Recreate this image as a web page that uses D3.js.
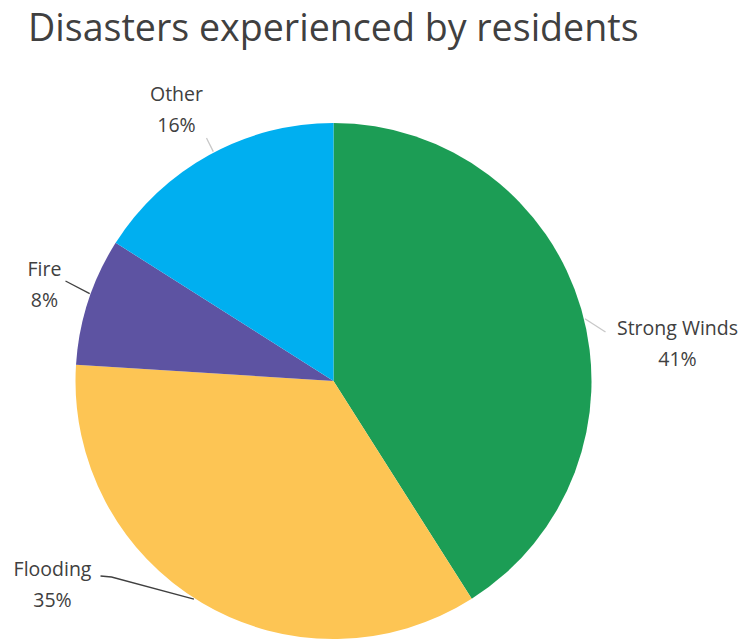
<!DOCTYPE html>
<html>
<head>
<meta charset="utf-8">
<script src="https://cdn.jsdelivr.net/npm/d3@7"></script>
<style>
  html, body { margin: 0; padding: 0; background: #fff; }
  svg { display: block; }
  text { font-family: "Open Sans", "Noto Sans", sans-serif; fill: #404040; }
</style>
</head>
<body>
<svg id="chart" width="747" height="640"></svg>
<script>
// Share of residents by type of disaster experienced
const categories = ["Strong Winds", "Flooding", "Fire", "Other"];
const shares = [41, 35, 8, 16];
const colors = ["#1c9d55", "#fdc554", "#5d53a2", "#00aff0"];

const width = 747, height = 640;
const cx = 333.5, cy = 381, radius = 258;

const svg = d3.select("#chart");

svg.append("text")
  .attr("x", 28)
  .attr("y", 41)
  .attr("font-size", 37.6)
  .text("Disasters experienced by residents");

const data = categories.map((c, i) => ({ name: c, value: shares[i], color: colors[i] }));

const pie = d3.pie().value(d => d.value).sort(null);
const arcs = pie(data);
const arc = d3.arc().innerRadius(0).outerRadius(radius);

const g = svg.append("g").attr("transform", `translate(${cx},${cy})`);

g.selectAll("path.slice")
  .data(arcs)
  .join("path")
  .attr("class", "slice")
  .attr("d", arc)
  .attr("fill", d => d.data.color);

// Label placement (relative to pie centre) and leader-line angle offsets
const labelLayout = {
  "Strong Winds": { x: 344, y: -46, lineTo: [272, -49], angleShift: 0.04, color: "#c8c8c8" },
  "Flooding":     { x: -281, y: 195, lineTo: [-233, 195], angleShift: 0.035, color: "#404040" },
  "Fire":         { x: -289, y: -105, lineTo: [-268, -100], angleShift: 0.03, color: "#404040" },
  "Other":        { x: -157, y: -280, lineTo: [-127, -243], angleShift: 0.02, color: "#c8c8c8" }
};

const labels = g.selectAll("g.label")
  .data(arcs)
  .join("g")
  .attr("class", "label");

labels.each(function(d) {
  const L = labelLayout[d.data.name];
  const sel = d3.select(this);
  const mid = (d.startAngle + d.endAngle) / 2 + L.angleShift;
  const ex = Math.sin(mid) * (radius + 1);
  const ey = -Math.cos(mid) * (radius + 1);
  const path = d3.path();
  path.moveTo(L.lineTo[0], L.lineTo[1]);
  if (d.data.name === "Flooding") {
    path.lineTo(L.lineTo[0] + 11, L.lineTo[1] + 1);
  }
  path.lineTo(ex, ey);
  sel.append("path")
    .attr("d", path.toString())
    .attr("fill", "none")
    .attr("stroke", L.color)
    .attr("stroke-width", 1.3);
  const pct = Math.round(d.data.value / d3.sum(shares) * 100) + "%";
  sel.append("text")
    .attr("x", L.x)
    .attr("y", L.y)
    .attr("text-anchor", "middle")
    .attr("font-size", 19.5)
    .text(d.data.name);
  sel.append("text")
    .attr("x", L.x)
    .attr("y", L.y + 31)
    .attr("text-anchor", "middle")
    .attr("font-size", 19.5)
    .text(pct);
});
</script>
</body>
</html>
